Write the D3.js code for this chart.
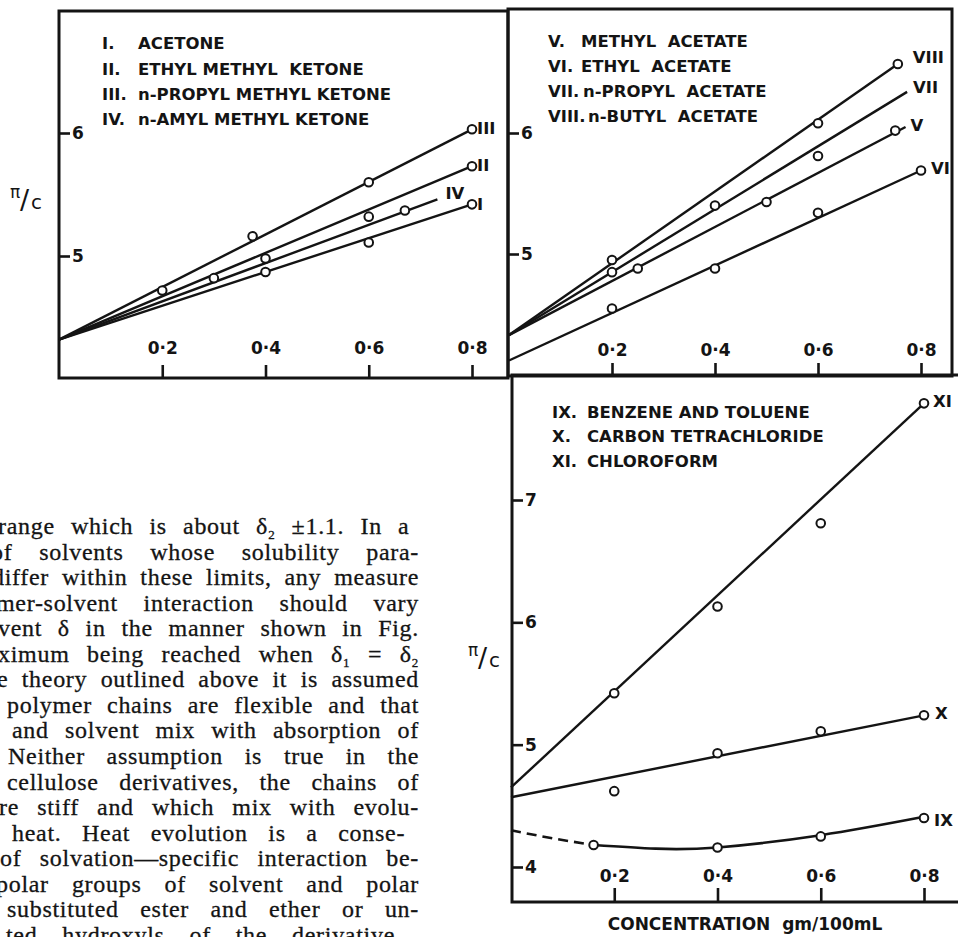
<!DOCTYPE html>
<html>
<head>
<meta charset="utf-8">
<script src="https://cdn.jsdelivr.net/npm/d3@7"></script>
<style>
  body { margin: 0; background: #fff; }
  svg { display: block; }
</style>
</head>
<body>
<div id="chart"></div>
<script>
// ---- data (concentration gm/100mL vs pi/c) ----
var concTicks = [0.2, 0.4, 0.6, 0.8];
var upperPiTicks = [5, 6];
var lowerPiTicks = [4, 5, 6, 7];

// ketones
var ketoneNums = ["I.", "II.", "III.", "IV."];
var ketoneNames = ["ACETONE", "ETHYL METHYL  KETONE", "n-PROPYL METHYL KETONE", "n-AMYL METHYL KETONE"];
var acetoneC = [0.4, 0.6, 0.8];
var acetoneP = [4.87, 5.11, 5.42];
var acetoneFit = [[0, 4.32], [0.8, 5.42]];
var ethylMethylC = [0.6, 0.8];
var ethylMethylP = [5.32, 5.73];
var ethylMethylFit = [[0, 4.32], [0.8, 5.73]];
var propylMethylC = [0.2, 0.375, 0.6, 0.8];
var propylMethylP = [4.72, 5.16, 5.6, 6.03];
var propylMethylFit = [[0, 4.32], [0.8, 6.03]];
var amylMethylC = [0.3, 0.4, 0.67];
var amylMethylP = [4.82, 4.98, 5.37];
var amylMethylFit = [[0, 4.32], [0.733, 5.46]];

// acetates
var acetateNums = ["V.", "VI.", "VII.", "VIII."];
var acetateNames = ["METHYL  ACETATE", "ETHYL  ACETATE", "n-PROPYL  ACETATE", "n-BUTYL  ACETATE"];
var methylAcC = [0.25, 0.5, 0.75];
var methylAcP = [4.88, 5.43, 6.02];
var methylAcFit = [[0, 4.33], [0.77, 6.05]];
var ethylAcC = [0.2, 0.4, 0.6, 0.8];
var ethylAcP = [4.55, 4.88, 5.34, 5.69];
var ethylAcFit = [[0, 4.12], [0.8, 5.69]];
var propylAcC = [0.2, 0.4, 0.6];
var propylAcP = [4.85, 5.4, 5.81];
var propylAcFit = [[0, 4.33], [0.773, 6.34]];
var butylAcC = [0.2, 0.6, 0.755];
var butylAcP = [4.95, 6.08, 6.57];
var butylAcFit = [[0, 4.33], [0.755, 6.57]];

// others
var otherNums = ["IX.", "X.", "XI."];
var otherNames = ["BENZENE AND TOLUENE", "CARBON TETRACHLORIDE", "CHLOROFORM"];
var benzeneC = [0.16, 0.4, 0.6, 0.8];
var benzeneP = [4.18, 4.16, 4.25, 4.4];
var benzeneCurve = [[0.16, 4.18], [0.28, 4.15], [0.4, 4.16], [0.6, 4.26], [0.8, 4.41]];
var benzeneDashed = [[0, 4.3], [0.08, 4.235], [0.16, 4.18]];
var carbonTetC = [0.2, 0.4, 0.6, 0.8];
var carbonTetP = [4.62, 4.93, 5.11, 5.24];
var carbonTetFit = [[0, 4.57], [0.8, 5.24]];
var chloroformC = [0.2, 0.4, 0.6, 0.8];
var chloroformP = [5.42, 6.13, 6.81, 7.79];
var chloroformFit = [[0, 4.65], [0.8, 7.79]];

// running text beside the figure (left edge cut off in the scan)
var bodyLines = [
  "range which is about δ_2 ±1.1.  In a",
  "of solvents whose solubility para-",
  "differ within these limits, any measure",
  "mer-solvent interaction should vary",
  "vent δ in the manner shown in Fig.",
  "ximum being reached when δ_1 = δ_2",
  "e theory outlined above it is assumed",
  "polymer chains are flexible and that",
  "and solvent mix with absorption of",
  "Neither assumption is true in the",
  "cellulose derivatives, the chains of",
  "re stiff and which mix with evolu-",
  "heat.  Heat evolution is a conse-",
  "of solvation—specific interaction be-",
  "polar groups of solvent and polar",
  "substituted ester and ether or un-",
  "ted hydroxyls of the derivative"
];
var bodyLeft = [-2, -9, -8, -4, -2, -2, -3, 7, 12, 8, 7, -1, 12, 0, -4, 7, 6];
var bodyRight = [419, 419, 419, 419, 419, 419, 419, 419, 419, 419, 419, 419, 419, 419, 419, 419, 395];

var ink = "#141414";
var sans = "'DejaVu Sans', sans-serif";

var svg = d3.select("#chart").append("svg")
  .attr("width", 958).attr("height", 937);
svg.append("rect").attr("width", 958).attr("height", 937).attr("fill", "#fff");

var fmt = function (d) { return d3.format(".1f")(d).replace(".", "\u00B7"); };

function label(sel, size) {
  return sel.attr("fill", ink).style("font-family", sans)
    .style("font-size", (size || 16.5) + "px").style("font-weight", 700);
}

function drawPanel(p) {
  var g = svg.append("g");
  var xs = d3.scaleLinear().domain([0, 0.8]).range(p.xRange);
  var ys = d3.scaleLinear().domain(p.yDomain).range(p.yRange);

  // x axis: ticks point up into the plot, labels above them
  var xa = g.append("g")
    .attr("transform", "translate(0," + p.frame[3] + ")")
    .call(d3.axisTop(xs).tickValues(concTicks).tickSize(p.xTick).tickPadding(p.xPad).tickFormat(fmt));
  var ya = g.append("g")
    .attr("transform", "translate(" + p.frame[0] + ",0)")
    .call(d3.axisRight(ys).tickValues(p.yTicks).tickSize(11).tickPadding(2).tickFormat(d3.format("d")));
  [xa, ya].forEach(function (a) {
    a.select(".domain").remove();
    a.selectAll("line").attr("stroke", ink).attr("stroke-width", 2.6);
    label(a.selectAll("text"), 17);
  });

  // frame
  g.append("rect")
    .attr("x", p.frame[0]).attr("y", p.frame[1])
    .attr("width", p.frame[2] - p.frame[0]).attr("height", p.frame[3] - p.frame[1])
    .attr("fill", "none").attr("stroke", ink).attr("stroke-width", 3);

  var line = d3.line().x(function (d) { return xs(d[0]); }).y(function (d) { return ys(d[1]); });

  p.series.forEach(function (s) {
    if (s.fit) {
      g.append("path").datum(s.fit).attr("d", line)
        .attr("fill", "none").attr("stroke", ink).attr("stroke-width", 2.4);
    }
    if (s.curve) {
      var curved = d3.line().curve(d3.curveNatural)
        .x(function (d) { return xs(d[0]); }).y(function (d) { return ys(d[1]); });
      g.append("path").datum(s.curve).attr("d", curved)
        .attr("fill", "none").attr("stroke", ink).attr("stroke-width", 2.6);
      g.append("path").datum(s.dashed).attr("d", curved)
        .attr("fill", "none").attr("stroke", ink).attr("stroke-width", 2.6)
        .attr("stroke-dasharray", "10,6");
    }
    g.selectAll(null).data(d3.zip(s.c, s.p)).enter().append("circle")
      .attr("cx", function (d) { return xs(d[0]); })
      .attr("cy", function (d) { return ys(d[1]); })
      .attr("r", 4.3).attr("fill", "#fff").attr("stroke", ink).attr("stroke-width", 2);
    var end = s.fit ? s.fit[s.fit.length - 1] : s.curve[s.curve.length - 1];
    label(g.append("text"), 16.5)
      .attr("x", xs(end[0]) + s.dx).attr("y", ys(end[1]) + s.dy)
      .attr("dy", "0.36em")
      .text(s.label);
  });

  // legend
  p.nums.forEach(function (n, i) {
    label(g.append("text")).attr("x", p.numX).attr("y", p.legendY[i]).text(n);
    label(g.append("text")).attr("x", p.nameX[i]).attr("y", p.legendY[i])
      .attr("xml:space", "preserve").text(p.names[i]);
  });

  // pi/c axis title
  if (p.title) {
    var t = g.append("g").attr("fill", ink).style("font-family", sans);
    t.append("text").attr("x", p.title[0]).attr("y", p.title[1])
      .style("font-size", "17px").text("\u03C0");
    t.append("text").attr("x", p.title[0] + 10).attr("y", p.title[1] + 11)
      .style("font-size", "27px").text("/");
    t.append("text").attr("x", p.title[0] + 21).attr("y", p.title[1] + 11)
      .style("font-size", "20px").text("c");
  }
}

drawPanel({
  frame: [59, 11, 508, 378],
  xRange: [59, 472], yDomain: [5, 6], yRange: [256, 133],
  yTicks: upperPiTicks, xTick: 13, xPad: 11,
  nums: ketoneNums, names: ketoneNames, numX: 102, nameX: [138, 138, 138, 138],
  legendY: [49, 75, 100, 125], title: [10, 198],
  series: [
    { label: "I", c: acetoneC, p: acetoneP, fit: acetoneFit, dx: 5, dy: 0 },
    { label: "II", c: ethylMethylC, p: ethylMethylP, fit: ethylMethylFit, dx: 5, dy: -1 },
    { label: "III", c: propylMethylC, p: propylMethylP, fit: propylMethylFit, dx: 5, dy: -1 },
    { label: "IV", c: amylMethylC, p: amylMethylP, fit: amylMethylFit, dx: 8, dy: -6 }
  ]
});

drawPanel({
  frame: [508, 9, 952, 376],
  xRange: [509, 921], yDomain: [5, 6], yRange: [254, 133],
  yTicks: upperPiTicks, xTick: 13, xPad: 7,
  nums: acetateNums, names: acetateNames, numX: 548, nameX: [581, 581, 583, 588],
  legendY: [47, 72, 97, 122], title: null,
  series: [
    { label: "V", c: methylAcC, p: methylAcP, fit: methylAcFit, dx: 5, dy: -2 },
    { label: "VI", c: ethylAcC, p: ethylAcP, fit: ethylAcFit, dx: 10, dy: -2 },
    { label: "VII", c: propylAcC, p: propylAcP, fit: propylAcFit, dx: 6, dy: -5 },
    { label: "VIII", c: butylAcC, p: butylAcP, fit: butylAcFit, dx: 15, dy: -7 }
  ]
});

drawPanel({
  frame: [512, 375, 975, 902],
  xRange: [511, 924], yDomain: [4, 7], yRange: [867, 500],
  yTicks: lowerPiTicks, xTick: 14, xPad: 6,
  nums: otherNums, names: otherNames, numX: 552, nameX: [587, 587, 587],
  legendY: [418, 442, 467], title: [468, 656],
  series: [
    { label: "IX", c: benzeneC, p: benzeneP, curve: benzeneCurve, dashed: benzeneDashed, dx: 10, dy: 3 },
    { label: "X", c: carbonTetC, p: carbonTetP, fit: carbonTetFit, dx: 11, dy: -2 },
    { label: "XI", c: chloroformC, p: chloroformP, fit: chloroformFit, dx: 9, dy: -2 }
  ]
});

label(svg.append("text"), 17)
  .attr("x", 745).attr("y", 930).attr("text-anchor", "middle")
  .attr("xml:space", "preserve")
  .text("CONCENTRATION  gm/100mL");

// body text, justified to the right margin by widening the word gaps
var body = svg.append("g").attr("fill", ink)
  .attr("stroke", ink).attr("stroke-width", 0.3)
  .style("font-family", "'Liberation Serif', 'DejaVu Serif', serif")
  .style("font-size", "24px").style("letter-spacing", "0.7px");
bodyLines.forEach(function (ln, i) {
  var t = body.append("text")
    .attr("x", bodyLeft[i]).attr("y", 534 + i * 25.55);
  ln.split(/_(\d)/).forEach(function (part, j) {
    if (j % 2 === 1) {
      t.append("tspan").attr("dy", 5).style("font-size", "13px").text(part);
    } else if (j > 0) {
      t.append("tspan").attr("dy", -5).text(part);
    } else {
      t.append("tspan").text(part);
    }
  });
  var gaps = ln.split(" ").length - 1;
  var natural = t.node().getComputedTextLength();
  var spare = bodyRight[i] - bodyLeft[i] - natural;
  if (gaps > 0) {
    t.style("word-spacing", (spare / gaps) + "px");
  }
});
</script>
</body>
</html>
